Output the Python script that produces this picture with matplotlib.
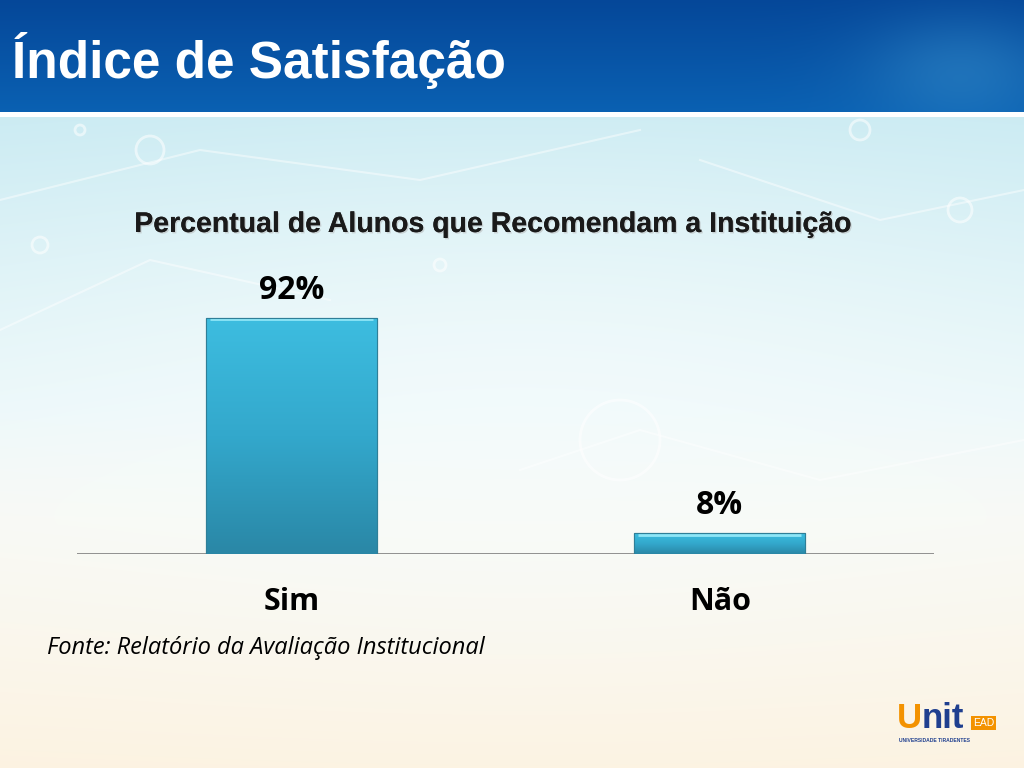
#!/usr/bin/env python
"""Índice de Satisfação: percent of students who recommend the institution."""
import matplotlib

matplotlib.use("Agg")
import matplotlib.pyplot as plt
import matplotlib.patheffects as pe
import numpy as np

W, H = 1024, 768

categories = ["Sim", "Não"]
values = [92, 8]

TITLE = "Índice de Satisfação"
CHART_TITLE = "Percentual de Alunos que Recomendam a Instituição"
SOURCE = "Fonte: Relatório da Avaliação Institucional"


def px(x, y):
    """Pixel coords (top-left origin) -> figure fraction."""
    return x / W, 1 - y / H


def make_background():
    yy, xx = np.mgrid[0:H, 0:W].astype(float)
    img = np.ones((H, W, 3))
    # lower body: light cyan top-left fading to white, cream at the bottom
    t = np.clip((yy - 117) / (H - 117), 0, 1)
    cyan = np.array([0.79, 0.92, 0.95])
    white = np.array([0.97, 0.99, 0.99])
    cream = np.array([0.99, 0.95, 0.88])
    a = np.clip(1 - t * 1.6, 0, 1)[..., None]
    b = np.clip((t - 0.45) / 0.55, 0, 1)[..., None]
    body = cyan * a + white * (1 - a)
    body = body * (1 - b) + cream * b
    s = np.exp(-((xx - 520) ** 2 / 300000 + (yy - 420) ** 2 / 60000))[..., None]
    body = body * (1 - 0.6 * s) + white * 0.6 * s
    img[:] = body
    # top banner
    v = np.clip(yy / 112, 0, 1)[..., None]
    top = np.array([0.02, 0.28, 0.60]) * (1 - v) + np.array([0.04, 0.38, 0.70]) * v
    glow = np.exp(-((xx - 960) ** 2 / 9000 + (yy - 70) ** 2 / 3000))[..., None]
    top = top * (1 - 0.4 * glow) + np.array([0.25, 0.60, 0.82]) * 0.4 * glow
    band = yy < 112
    img[band] = top[band]
    img[(yy >= 112) & (yy < 117)] = 1.0
    return img


fig = plt.figure(figsize=(W / 100, H / 100), dpi=100)

bg = fig.add_axes([0, 0, 1, 1])
bg.imshow(make_background(), extent=(0, W, H, 0), aspect="auto", zorder=0)
# faint network decoration
for cx, cy, r in [(150, 150, 14), (40, 245, 8), (620, 440, 40), (860, 130, 10),
                  (960, 210, 12), (440, 265, 6), (80, 130, 5), (300, 440, 7)]:
    bg.add_patch(plt.Circle((cx, cy), r, fill=False, ec="white", lw=2, alpha=0.55))
for xs, ys in [([0, 200, 420, 640], [200, 150, 180, 130]),
               ([0, 150, 330], [330, 260, 300]),
               ([700, 880, 1024], [160, 220, 190]),
               ([520, 640, 820, 1024], [470, 430, 480, 440])]:
    bg.plot(xs, ys, color="white", lw=1.5, alpha=0.45)
bg.set_xlim(0, W)
bg.set_ylim(H, 0)
bg.axis("off")

# slide title
fig.text(*px(12, 78), TITLE, color="white", fontsize=37, fontweight="bold",
         family="Liberation Sans", va="baseline", ha="left")

# chart title with a soft shadow
fig.text(*px(493, 232), CHART_TITLE, color="#1a1a1a", fontsize=20.5,
         fontweight="bold", family="Liberation Sans", ha="center", va="baseline",
         path_effects=[pe.withSimplePatchShadow(offset=(1, -1),
                                                shadow_rgbFace="#b0b0b0", alpha=0.5),
                       pe.Normal()])

# bar axes: baseline at y=554, x from 77 to 934
ax = fig.add_axes([77 / W, (H - 554) / H, 857 / W, 256.5 / H])
ax.patch.set_alpha(0)
x = np.arange(len(categories))
bars = ax.bar(x, values, width=0.4, color="#33aed3", edgecolor="#2f7f98",
              linewidth=0.8, zorder=2)

grad = np.linspace(0, 1, 256)[:, None]
cmap = matplotlib.colors.LinearSegmentedColormap.from_list(
    "bar", ["#2a87a6", "#33a8cc", "#3dbde0"])
for b in bars:
    x0, w, h = b.get_x(), b.get_width(), b.get_height()
    im = ax.imshow(grad, cmap=cmap, origin="lower", aspect="auto",
                   extent=(x0, x0 + w, 0, h), zorder=3)
    im.set_clip_path(b)
    # bevel highlight along the top edge
    ax.plot([x0 + 0.01, x0 + w - 0.01], [h - 0.4, h - 0.4], color="#8fe6f7",
            lw=2, solid_capstyle="butt", zorder=4)
    ax.add_patch(plt.Rectangle((x0, 0), w, h, fill=False, ec="#2f7f98", lw=0.8,
                               zorder=5))
    ax.annotate(f"{b.get_height():.0f}%", (x0 + w / 2, h), xytext=(0, 14),
                textcoords="offset points", ha="center", va="baseline",
                fontsize=23, fontweight="bold", family="Open Sans", color="black")

for xi, cat in zip(x, categories):
    ax.annotate(cat, (xi, 0), xycoords=("data", "axes fraction"),
                xytext=(0, -40.5), textcoords="offset points", ha="center",
                va="baseline", fontsize=22, fontweight="bold", family="Open Sans",
                color="black")

ax.set_xlim(-0.5, len(categories) - 0.5)
ax.set_ylim(0, 100)
ax.axhline(0, color="#7f7f7f", lw=1.2, zorder=1)
ax.set_xticks([])
ax.set_yticks([])
for sp in ax.spines.values():
    sp.set_visible(False)

# source note
fig.text(*px(47, 654), SOURCE, fontsize=17, style="italic", family="Open Sans",
         color="black", va="baseline", ha="left")

# logo
fig.text(*px(897, 728), "U", color="#f39200", fontsize=25, fontweight="heavy",
         family="Liberation Sans", va="baseline")
fig.text(*px(922, 728), "nit", color="#1f3f8f", fontsize=25, fontweight="heavy",
         family="Liberation Sans", va="baseline")
fig.text(*px(973, 726), "EAD", color="white", fontsize=7.5, family="Liberation Sans",
         va="baseline", bbox=dict(boxstyle="square,pad=0.15", fc="#f39200", ec="none"))
fig.text(*px(899, 742), "UNIVERSIDADE TIRADENTES", color="#1f3f8f", fontsize=3.6,
         fontweight="bold", family="Liberation Sans", va="baseline")

fig.savefig("out.png", dpi=100)
